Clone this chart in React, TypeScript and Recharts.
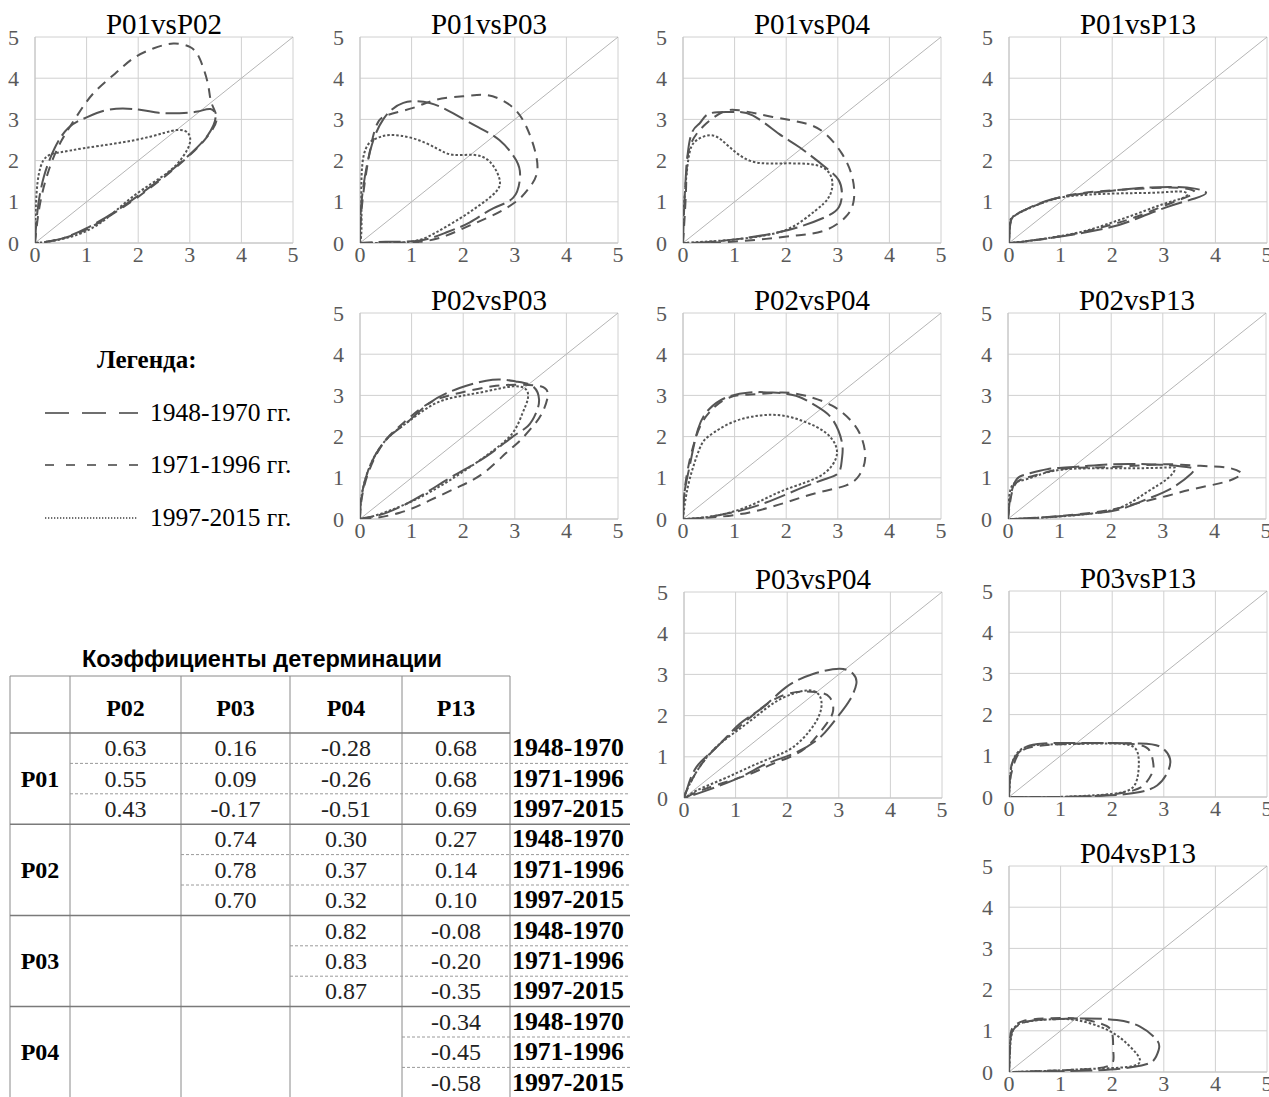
import React from "react";
import {
  ScatterChart,
  Scatter,
  XAxis,
  YAxis,
  CartesianGrid,
  ReferenceLine,
} from "recharts";

type Pt = [number, number];

const SERIF = '"Liberation Serif", "Times New Roman", serif';
const SANS = '"Liberation Sans", Arial, sans-serif';

const periods = ["1948-1970", "1971-1996", "1997-2015"];
const legendLabels = ["1948-1970 гг.", "1971-1996 гг.", "1997-2015 гг."];
const axisTicks = [0, 1, 2, 3, 4, 5];

// loops, [x, y]
const p01p02_a: Pt[] = [[0, 0], [0.05, 0.8], [0.17, 1.6], [0.38, 2.3], [0.65, 2.8], [1.0, 3.05], [1.45, 3.24], [2.0, 3.24], [2.4, 3.16], [2.8, 3.15], [3.15, 3.19], [3.4, 3.25], [3.5, 3.05], [3.35, 2.62], [3.0, 2.15], [2.5, 1.62], [2.0, 1.15], [1.5, 0.72], [1.0, 0.36], [0.5, 0.1], [0.1, 0.01], [0, 0]];
const p01p02_b: Pt[] = [[0, 0], [0.1, 0.97], [0.29, 1.85], [0.52, 2.5], [0.8, 3.06], [1.13, 3.63], [1.55, 4.11], [1.9, 4.48], [2.29, 4.72], [2.68, 4.84], [3.0, 4.76], [3.19, 4.48], [3.35, 3.87], [3.42, 3.4], [3.52, 3.0], [3.35, 2.6], [3.1, 2.25], [2.6, 1.7], [2.0, 1.12], [1.5, 0.7], [1.0, 0.33], [0.5, 0.1], [0.1, 0.01], [0, 0]];
const p01p02_c: Pt[] = [[0, 0], [0.03, 1.2], [0.16, 2.0], [0.48, 2.2], [0.94, 2.3], [1.58, 2.42], [2.23, 2.58], [2.74, 2.74], [2.97, 2.66], [3.0, 2.42], [2.87, 2.1], [2.55, 1.69], [1.9, 1.13], [1.26, 0.48], [0.61, 0.12], [0.1, 0.01], [0, 0]];

const p01p03_a: Pt[] = [[0, 0], [0.03, 1.0], [0.19, 2.2], [0.45, 3.0], [0.84, 3.4], [1.35, 3.4], [1.8, 3.15], [2.26, 2.83], [2.7, 2.5], [3.03, 2.0], [3.1, 1.58], [2.97, 1.1], [2.58, 0.84], [2.13, 0.5], [1.68, 0.26], [1.16, 0.06], [0.5, 0.03], [0, 0]];
const p01p03_b: Pt[] = [[0, 0], [0.06, 1.16], [0.26, 2.62], [0.52, 3.1], [1.03, 3.28], [1.48, 3.48], [2.0, 3.56], [2.38, 3.6], [2.7, 3.5], [3.02, 3.22], [3.28, 2.66], [3.44, 1.84], [3.28, 1.34], [3.02, 1.0], [2.57, 0.67], [2.12, 0.42], [1.67, 0.18], [1.16, 0.03], [0.5, 0.01], [0, 0]];
const p01p03_c: Pt[] = [[0, 0], [0.03, 0.57], [0.06, 2.05], [0.32, 2.54], [0.58, 2.62], [1.03, 2.54], [1.48, 2.3], [1.8, 2.14], [2.19, 2.14], [2.51, 1.98], [2.7, 1.57], [2.64, 1.25], [2.32, 0.92], [1.93, 0.59], [1.48, 0.26], [0.97, 0.03], [0.19, 0.0], [0, 0]];

const p01p04_a: Pt[] = [[0, 0], [0.03, 1.04], [0.13, 2.49], [0.32, 2.9], [0.51, 3.14], [0.96, 3.18], [1.35, 3.1], [1.86, 2.65], [2.25, 2.33], [2.76, 1.84], [3.02, 1.52], [3.08, 1.2], [3.02, 0.87], [2.76, 0.63], [2.25, 0.39], [1.74, 0.23], [1.09, 0.1], [0.45, 0.02], [0, 0]];
const p01p04_b: Pt[] = [[0, 0], [0.06, 1.36], [0.13, 2.33], [0.45, 2.9], [0.77, 3.18], [1.09, 3.22], [1.74, 3.06], [2.38, 2.9], [2.76, 2.65], [3.08, 2.17], [3.28, 1.6], [3.31, 1.04], [3.15, 0.63], [2.76, 0.31], [2.25, 0.19], [1.61, 0.1], [0.77, 0.02], [0, 0]];
const p01p04_c: Pt[] = [[0, 0], [0.01, 0.71], [0.1, 2.0], [0.26, 2.49], [0.58, 2.61], [0.9, 2.33], [1.29, 2.0], [1.74, 1.93], [2.25, 1.93], [2.7, 1.84], [2.89, 1.52], [2.83, 1.12], [2.57, 0.79], [2.12, 0.39], [1.61, 0.19], [0.96, 0.08], [0.26, 0.02], [0, 0]];

const p01p13_a: Pt[] = [[0, 0], [0.02, 0.4], [0.1, 0.65], [0.4, 0.86], [0.8, 1.05], [1.3, 1.18], [2.0, 1.27], [2.6, 1.34], [3.2, 1.36], [3.6, 1.32], [3.82, 1.22], [3.6, 1.08], [3.06, 0.87], [2.41, 0.56], [1.96, 0.38], [1.31, 0.22], [0.67, 0.1], [0.15, 0.02], [0, 0]];
const p01p13_b: Pt[] = [[0, 0], [0.02, 0.45], [0.12, 0.68], [0.45, 0.88], [0.85, 1.06], [1.35, 1.2], [2.0, 1.28], [2.7, 1.33], [3.3, 1.34], [3.6, 1.25], [3.45, 1.12], [3.0, 0.9], [2.5, 0.65], [2.0, 0.45], [1.4, 0.26], [0.8, 0.12], [0.2, 0.02], [0, 0]];
const p01p13_c: Pt[] = [[0, 0], [0.02, 0.5], [0.1, 0.66], [0.4, 0.85], [0.8, 1.04], [1.2, 1.14], [2.0, 1.2], [2.8, 1.22], [3.3, 1.25], [3.45, 1.2], [3.38, 1.1], [3.0, 0.95], [2.5, 0.72], [2.0, 0.5], [1.5, 0.3], [1.0, 0.17], [0.5, 0.07], [0.1, 0.01], [0, 0]];

const p02p03_a: Pt[] = [[0, 0], [0.03, 0.55], [0.19, 1.28], [0.51, 1.93], [0.9, 2.33], [1.35, 2.82], [1.93, 3.18], [2.57, 3.38], [3.02, 3.34], [3.35, 3.22], [3.47, 2.9], [3.41, 2.57], [3.25, 2.25], [2.96, 2.0], [2.45, 1.52], [1.8, 1.04], [1.16, 0.55], [0.51, 0.15], [0.06, 0.02], [0, 0]];
const p02p03_b: Pt[] = [[0, 0], [0.03, 0.47], [0.16, 1.12], [0.45, 1.84], [0.84, 2.33], [1.35, 2.82], [1.93, 3.06], [2.57, 3.22], [3.09, 3.26], [3.5, 3.22], [3.64, 3.0], [3.52, 2.55], [3.35, 2.25], [3.1, 1.9], [2.83, 1.6], [2.4, 1.12], [1.93, 0.79], [1.35, 0.45], [0.77, 0.15], [0.19, 0.01], [0, 0]];
const p02p03_c: Pt[] = [[0, 0], [0.03, 0.55], [0.19, 1.28], [0.51, 1.93], [0.9, 2.33], [1.42, 2.78], [1.93, 2.98], [2.45, 3.1], [2.96, 3.22], [3.22, 3.14], [3.25, 2.9], [3.15, 2.57], [2.96, 2.09], [2.57, 1.65], [2.0, 1.15], [1.35, 0.65], [0.77, 0.3], [0.26, 0.07], [0, 0]];

const p02p04_a: Pt[] = [[0, 0], [0.03, 0.65], [0.13, 1.29], [0.29, 2.18], [0.51, 2.67], [0.84, 2.95], [1.29, 3.07], [1.74, 3.07], [2.19, 2.99], [2.57, 2.75], [2.89, 2.43], [3.08, 1.86], [3.08, 1.46], [3.02, 1.13], [2.76, 0.97], [2.25, 0.73], [1.61, 0.4], [0.96, 0.16], [0.32, 0.02], [0, 0]];
const p02p04_b: Pt[] = [[0, 0], [0.06, 0.97], [0.26, 2.02], [0.51, 2.59], [0.9, 2.95], [1.41, 3.03], [1.93, 3.07], [2.38, 2.99], [2.89, 2.75], [3.28, 2.35], [3.47, 1.94], [3.53, 1.46], [3.41, 1.05], [3.15, 0.81], [2.64, 0.65], [1.99, 0.4], [1.29, 0.16], [0.58, 0.04], [0, 0]];
const p02p04_c: Pt[] = [[0, 0], [0.03, 0.32], [0.13, 0.97], [0.32, 1.7], [0.51, 2.02], [0.96, 2.35], [1.48, 2.51], [1.93, 2.51], [2.38, 2.35], [2.76, 2.1], [2.96, 1.78], [2.96, 1.46], [2.76, 1.13], [2.38, 0.89], [1.86, 0.65], [1.29, 0.32], [0.64, 0.08], [0, 0]];

const p02p13_a: Pt[] = [[0, 0], [0.05, 0.56], [0.17, 0.97], [0.37, 1.09], [0.76, 1.21], [1.34, 1.27], [2.05, 1.33], [2.69, 1.33], [3.08, 1.31], [3.53, 1.25], [3.55, 1.1], [3.15, 0.73], [2.69, 0.48], [2.18, 0.24], [1.53, 0.12], [0.69, 0.04], [0.11, 0], [0, 0]];
const p02p13_b: Pt[] = [[0, 0], [0.05, 0.48], [0.17, 0.89], [0.5, 1.05], [1.01, 1.21], [1.66, 1.25], [2.44, 1.29], [3.08, 1.33], [3.73, 1.29], [4.24, 1.25], [4.52, 1.12], [4.45, 1.02], [4.18, 0.89], [3.6, 0.73], [3.08, 0.56], [2.56, 0.4], [2.05, 0.24], [1.4, 0.12], [0.69, 0.04], [0.11, 0], [0, 0]];
const p02p13_c: Pt[] = [[0, 0], [0.01, 0.32], [0.08, 0.81], [0.37, 0.97], [0.89, 1.17], [1.66, 1.23], [2.44, 1.23], [3.08, 1.25], [3.24, 1.21], [3.08, 0.97], [2.69, 0.65], [2.18, 0.28], [1.53, 0.12], [0.76, 0.04], [0.11, 0], [0, 0]];

const p03p04_a: Pt[] = [[0, 0], [0.05, 0.18], [0.24, 0.75], [0.63, 1.23], [1.08, 1.8], [1.53, 2.2], [1.98, 2.69], [2.5, 3.01], [3.02, 3.14], [3.28, 3.01], [3.34, 2.77], [3.21, 2.37], [3.02, 2.04], [2.82, 1.72], [2.56, 1.39], [2.11, 1.07], [1.6, 0.83], [1.08, 0.5], [0.43, 0.18], [0.05, 0.02], [0, 0]];
const p03p04_b: Pt[] = [[0, 0], [0.05, 0.18], [0.3, 0.75], [0.69, 1.31], [1.21, 1.88], [1.72, 2.37], [2.17, 2.57], [2.56, 2.57], [2.82, 2.45], [2.89, 2.12], [2.76, 1.8], [2.5, 1.39], [2.18, 1.07], [1.72, 0.83], [1.27, 0.58], [0.69, 0.34], [0.24, 0.14], [0.05, 0.02], [0, 0]];
const p03p04_c: Pt[] = [[0, 0], [0.05, 0.18], [0.3, 0.75], [0.69, 1.31], [1.21, 1.8], [1.72, 2.29], [2.11, 2.53], [2.37, 2.61], [2.56, 2.57], [2.66, 2.37], [2.63, 2.04], [2.44, 1.64], [2.11, 1.23], [1.72, 0.99], [1.27, 0.75], [0.76, 0.46], [0.24, 0.18], [0.05, 0.02], [0, 0]];

const p03p13_a: Pt[] = [[0, 0], [0.02, 0.49], [0.08, 0.89], [0.28, 1.18], [0.67, 1.3], [1.64, 1.31], [2.54, 1.3], [2.93, 1.22], [3.12, 0.93], [3.06, 0.57], [2.87, 0.28], [2.54, 0.12], [1.96, 0.04], [0.99, 0], [0, 0]];
const p03p13_b: Pt[] = [[0, 0], [0.02, 0.41], [0.12, 0.89], [0.34, 1.18], [0.99, 1.28], [1.96, 1.31], [2.54, 1.26], [2.74, 1.09], [2.8, 0.77], [2.77, 0.57], [2.64, 0.32], [2.41, 0.16], [1.83, 0.04], [0.99, 0], [0, 0]];
const p03p13_c: Pt[] = [[0, 0], [0.02, 0.41], [0.08, 0.89], [0.34, 1.22], [0.99, 1.28], [1.96, 1.3], [2.41, 1.22], [2.51, 0.97], [2.51, 0.65], [2.45, 0.32], [2.22, 0.12], [1.64, 0.04], [0.86, 0], [0, 0]];

const p04p13_a: Pt[] = [[0, 0], [0.02, 0.69], [0.08, 1.02], [0.34, 1.22], [0.86, 1.28], [1.51, 1.3], [2.09, 1.26], [2.54, 1.1], [2.87, 0.77], [2.9, 0.53], [2.8, 0.28], [2.57, 0.16], [2.15, 0.08], [1.64, 0.04], [0.99, 0.02], [0.08, 0], [0, 0]];
const p04p13_b: Pt[] = [[0, 0], [0.02, 0.61], [0.05, 1.02], [0.28, 1.24], [0.73, 1.3], [1.31, 1.3], [1.76, 1.18], [1.99, 0.98], [2.02, 0.53], [1.99, 0.2], [1.64, 0.08], [0.99, 0.04], [0.08, 0], [0, 0]];
const p04p13_c: Pt[] = [[0, 0], [0.02, 0.53], [0.08, 1.02], [0.34, 1.22], [0.86, 1.28], [1.31, 1.26], [1.76, 1.1], [2.09, 0.89], [2.35, 0.61], [2.54, 0.28], [2.28, 0.12], [1.64, 0.08], [0.99, 0.04], [0.08, 0], [0, 0]];

// table of determination coefficients
const tableCols = ["P02", "P03", "P04", "P13"];
const tableRowsP01 = [["0.63", "0.16", "-0.28", "0.68"], ["0.55", "0.09", "-0.26", "0.68"], ["0.43", "-0.17", "-0.51", "0.69"]];
const tableRowsP02 = [["0.74", "0.30", "0.27"], ["0.78", "0.37", "0.14"], ["0.70", "0.32", "0.10"]];
const tableRowsP03 = [["0.82", "-0.08"], ["0.83", "-0.20"], ["0.87", "-0.35"]];
const tableRowsP04 = [["-0.34"], ["-0.45"], ["-0.58"]];

const panels = [
  { title: "P01vsP02", x0: 35, y5: 37, loops: [p01p02_a, p01p02_b, p01p02_c] },
  { title: "P01vsP03", x0: 360, y5: 37, loops: [p01p03_a, p01p03_b, p01p03_c] },
  { title: "P01vsP04", x0: 683, y5: 37, loops: [p01p04_a, p01p04_b, p01p04_c] },
  { title: "P01vsP13", x0: 1009, y5: 37, loops: [p01p13_a, p01p13_b, p01p13_c] },
  { title: "P02vsP03", x0: 360, y5: 313, loops: [p02p03_a, p02p03_b, p02p03_c] },
  { title: "P02vsP04", x0: 683, y5: 313, loops: [p02p04_a, p02p04_b, p02p04_c] },
  { title: "P02vsP13", x0: 1008, y5: 313, loops: [p02p13_a, p02p13_b, p02p13_c] },
  { title: "P03vsP04", x0: 684, y5: 592, loops: [p03p04_a, p03p04_b, p03p04_c] },
  { title: "P03vsP13", x0: 1009, y5: 591, loops: [p03p13_a, p03p13_b, p03p13_c] },
  { title: "P04vsP13", x0: 1009, y5: 866, loops: [p04p13_a, p04p13_b, p04p13_c] },
];

const LINE = "#555555";
const dashes = ["22 6", "10 7", "2.5 2"];
const noDot = () => <g />;

const XTick = (props: any) => (
  <text x={props.x} y={props.y + 16} textAnchor="middle" fontFamily={SERIF} fontSize={22} fill="#595959">
    {props.payload.value}
  </text>
);
const YTick = (props: any) => (
  <text x={props.x} y={props.y + 7.5} textAnchor="end" fontFamily={SERIF} fontSize={22} fill="#595959">
    {props.payload.value}
  </text>
);

function Panel({ x0, y5, loops }: { x0: number; y5: number; loops: Pt[][] }) {
  return (
    <div style={{ position: "absolute", left: x0 - 35, top: y5 - 37, width: 320, height: 275 }}>
      <ScatterChart width={320} height={275} margin={{ top: 37, right: 27, bottom: 0, left: 0 }}>
        <CartesianGrid stroke="#d0d0d0" />
        <XAxis
          type="number"
          dataKey="x"
          domain={[0, 5]}
          ticks={axisTicks}
          interval={0}
          allowDataOverflow
          tickLine={false}
          tickSize={0}
          tickMargin={3}
          height={32}
          axisLine={{ stroke: "#c4c4c4" }}
          tick={XTick}
        />
        <YAxis
          type="number"
          dataKey="y"
          domain={[0, 5]}
          ticks={axisTicks}
          interval={0}
          allowDataOverflow
          tickLine={false}
          tickSize={0}
          tickMargin={16}
          width={35}
          axisLine={{ stroke: "#c4c4c4" }}
          tick={YTick}
        />
        <ReferenceLine
          segment={[{ x: 0, y: 0 }, { x: 5, y: 5 }]}
          stroke="#b5b5b5"
          strokeWidth={1}
        />
        {loops.map((pts, i) => (
          <Scatter
            key={periods[i]}
            name={periods[i]}
            data={pts.map(([x, y]) => ({ x, y }))}
            fill={LINE}
            line={{ stroke: LINE, strokeWidth: 2, strokeDasharray: dashes[i] }}
            lineJointType="natural"
            shape={noDot}
            isAnimationActive={false}
          />
        ))}
      </ScatterChart>
    </div>
  );
}

// table geometry
const colX = [10, 70, 181, 290, 402, 510];
const tTop = 676;
const headBottom = 733;
const rowH = 30.4;
const lineEnd = 630;

function Table() {
  const blocks = [
    { label: "P01", rows: tableRowsP01 },
    { label: "P02", rows: tableRowsP02 },
    { label: "P03", rows: tableRowsP03 },
    { label: "P04", rows: tableRowsP04 },
  ];
  const out: React.ReactNode[] = [];
  colX.forEach((x, i) => {
    out.push(<line key={"v" + i} x1={x} x2={x} y1={tTop} y2={1100} stroke="#8a8a8a" strokeWidth={1} />);
  });
  out.push(<line key="top" x1={colX[0]} x2={colX[5]} y1={tTop} y2={tTop} stroke="#8a8a8a" strokeWidth={1} />);
  out.push(<line key="hb" x1={colX[0]} x2={colX[5]} y1={headBottom} y2={headBottom} stroke="#7a7a7a" strokeWidth={1.5} />);
  tableCols.forEach((c, i) => {
    out.push(
      <text key={"h" + c} x={(colX[i + 1] + colX[i + 2]) / 2} y={716} textAnchor="middle" fontFamily={SERIF} fontWeight="bold" fontSize={24} fill="#000">
        {c}
      </text>
    );
  });
  blocks.forEach((b, bi) => {
    const by = headBottom + bi * rowH * 3;
    const firstCol = bi + 1;
    if (bi > 0) {
      out.push(<line key={"bs" + bi} x1={colX[0]} x2={lineEnd} y1={by} y2={by} stroke="#7a7a7a" strokeWidth={1.5} />);
    }
    out.push(
      <text key={"rl" + bi} x={(colX[0] + colX[1]) / 2} y={by + rowH * 1.5 + 8} textAnchor="middle" fontFamily={SERIF} fontWeight="bold" fontSize={24} fill="#000">
        {b.label}
      </text>
    );
    b.rows.forEach((vals, ri) => {
      const cy = by + rowH * ri + rowH / 2;
      if (ri > 0) {
        out.push(
          <line key={`d${bi}-${ri}`} x1={colX[firstCol]} x2={lineEnd} y1={by + rowH * ri} y2={by + rowH * ri} stroke="#9a9a9a" strokeWidth={1} strokeDasharray="3 2" />
        );
      }
      vals.forEach((v, vi) => {
        const ci = firstCol + vi;
        out.push(
          <text key={`t${bi}-${ri}-${vi}`} x={(colX[ci] + colX[ci + 1]) / 2} y={cy + 8} textAnchor="middle" fontFamily={SERIF} fontSize={24} fill="#222">
            {v}
          </text>
        );
      });
      out.push(
        <text key={`y${bi}-${ri}`} x={512} y={cy + 8} fontFamily={SERIF} fontWeight="bold" fontSize={25} fill="#000" textLength={112} lengthAdjust="spacingAndGlyphs">
          {periods[ri]}
        </text>
      );
    });
  });
  return <g>{out}</g>;
}

function Legend() {
  const rowsY = [413, 465, 518];
  return (
    <g>
      <text x={97} y={368} fontFamily={SERIF} fontWeight="bold" fontSize={25} fill="#000">
        Легенда:
      </text>
      {legendLabels.map((lab, i) => (
        <g key={lab}>
          <line
            x1={45}
            x2={138}
            y1={rowsY[i]}
            y2={rowsY[i]}
            stroke="#404040"
            strokeWidth={1.4}
            strokeDasharray={["24 13", "9 12", "1.3 1.7"][i]}
          />
          <text x={150} y={rowsY[i] + 8} fontFamily={SERIF} fontSize={25.5} fill="#000">
            {lab}
          </text>
        </g>
      ))}
    </g>
  );
}

export default function App() {
  return (
    <div
      style={{
        position: "absolute",
        left: 0,
        top: 0,
        width: 1269,
        height: 1097,
        overflow: "hidden",
        background: "#fff",
        fontFamily: SERIF,
      }}
    >
      {panels.map((p) => (
        <Panel key={p.title} x0={p.x0} y5={p.y5} loops={p.loops} />
      ))}
      <svg
        width={1269}
        height={1097}
        style={{ position: "absolute", left: 0, top: 0, pointerEvents: "none" }}
      >
        {panels.map((p) => (
          <text key={p.title} x={p.x0 + 129} y={p.y5 - 3} textAnchor="middle" fontFamily={SERIF} fontSize={29} fill="#000">
            {p.title}
          </text>
        ))}
        <Legend />
        <text x={262} y={667} textAnchor="middle" fontFamily={SANS} fontWeight="bold" fontSize={23.5} fill="#000">
          Коэффициенты детерминации
        </text>
        <Table />
      </svg>
    </div>
  );
}
